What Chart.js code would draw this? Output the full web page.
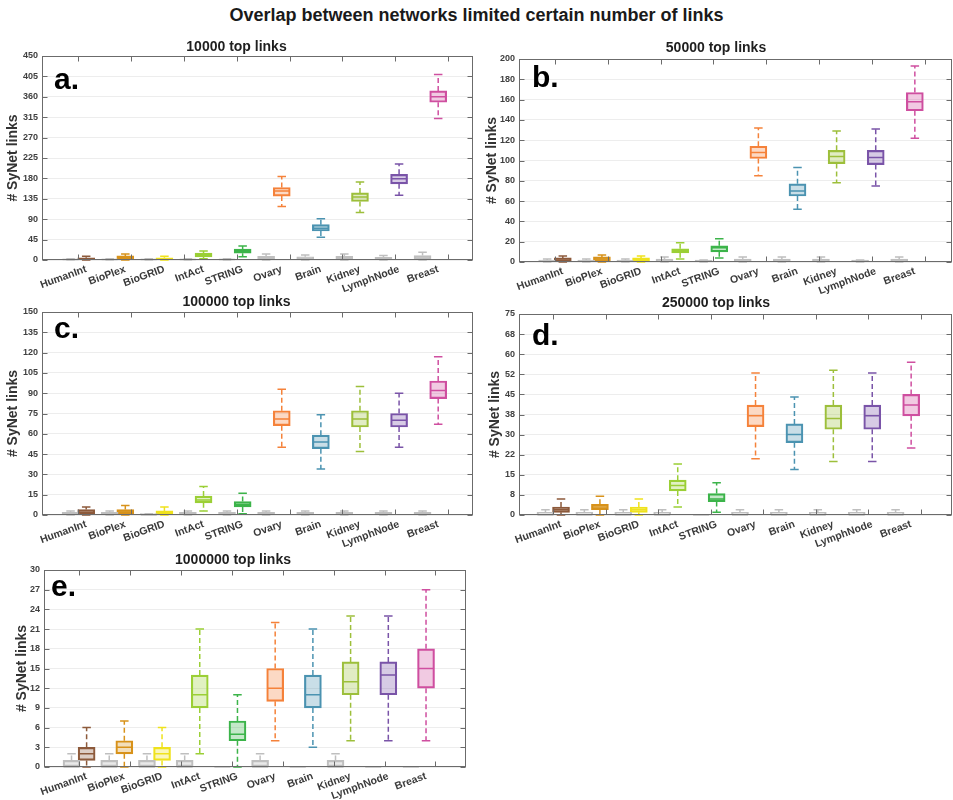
<!DOCTYPE html>
<html>
<head>
<meta charset="utf-8">
<script src="https://cdn.jsdelivr.net/npm/chart.js@4.4.1/dist/chart.umd.min.js"></script>
<style>
  html, body { margin: 0; padding: 0; background: #ffffff; }
  #page { position: relative; width: 953px; height: 800px; overflow: hidden;
          font-family: "Liberation Sans", Arial, Helvetica, sans-serif; }
  #mainTitle { position: absolute; left: 0; top: 5px; width: 953px; text-align: center;
               font-weight: bold; font-size: 18px; color: #1a1a1a; line-height: 21px; }
  .panel { position: absolute; }
  .panel canvas { display: block; }
</style>
</head>
<body>
<div id="page">
  <div id="mainTitle">Overlap between networks limited certain number of links</div>
</div>
<script>
// Networks / tissues on the x axis
const categories = ['HumanInt', 'BioPlex', 'BioGRID', 'IntAct', 'STRING',
                    'Ovary', 'Brain', 'Kidney', 'LymphNode', 'Breast'];

// Five-number summaries per category: [lower whisker, Q1, median, Q3, upper whisker]
// "Gray" = random background boxes, "Net" = SyNet overlap boxes
const links10000Gray = [[0,0,1,2,3],[0,0,1,2,3],[0,0,1,2,3],[0,0,1,2,3],[0,0,1,2,3],
                        [0,2,5,8,13],[0,2,4,7,11],[0,2,5,8,13],[0,1,3,6,10],[0,3,7,10,17]];
const links10000Net  = [[0,1,3,5,8],[0,2,5,9,13],[0,1,3,5,8],[3,7,11,15,20],[7,15,19,24,31],
                        [118,141,152,160,184],[50,64,70,78,91],[105,129,139,148,172],
                        [143,168,179,189,212],[312,348,360,373,409]];

const links50000Gray = [[0,0,1,2,3],[0,0,1,2,3],[0,0,1,2,3],[0,0,1,3,5],[0,0,1,2,2],
                        [0,0,1,3,5],[0,0,1,3,5],[0,0,1,3,5],[0,0,1,2,2],[0,0,1,3,5]];
const links50000Net  = [[0,1,3,4,6],[0,1,3,5,7],[0,0,2,4,6],[3,9,11,13,19],[4,10,14,16,23],
                        [85,102,108,114,132],[52,65,70,77,93],[78,97,104,110,129],
                        [75,96,103,110,131],[122,149,158,167,193]];

const links100000Gray = [[0,0,1,2,3],[0,0,1,2,3],[0,0,0,1,1],[0,0,1,2,3],[0,0,1,2,3],
                         [0,0,1,2,3],[0,0,1,2,3],[0,0,1,2,3],[0,0,1,2,3],[0,0,1,2,3]];
const links100000Net  = [[0,0,2,4,6],[0,1,3,4,7],[0,0,2,3,6],[3,9,11,14,21],[1,6,8,10,16],
                         [50,66,71,77,93],[34,49,54,59,74],[47,65,71,77,95],
                         [50,65,70,75,90],[67,86,92,99,117]];

const links250000Gray = [[0,0,0,1,2],[0,0,0,1,2],[0,0,0,1,2],[0,0,0,1,2],[0,0,0,0,0],
                         [0,0,0,1,2],[0,0,0,1,2],[0,0,0,1,2],[0,0,0,1,2],[0,0,0,1,2]];
const links250000Net  = [[0,1,2,3,6],[0,2,3,4,7],[0,1,2,3,6],[3,9,11,13,19],[1,5,6,8,12],
                         [21,33,37,41,53],[17,27,30,34,44],[20,32,36,41,54],
                         [20,32,37,41,53],[25,37,41,45,57]];

const links1000000Gray = [[0,0,0,1,2],[0,0,0,1,2],[0,0,0,1,2],[0,0,0,1,2],[0,0,0,0,0],
                          [0,0,0,1,2],[0,0,0,0,0],[0,0,0,1,2],[0,0,0,0,0],[0,0,0,0,0]];
const links1000000Net  = [[0,1,2,3,6],[0,2,3,4,7],[0,1,2,3,6],[2,9,11,14,21],[0,4,5,7,11],
                          [4,10,12,15,22],[3,9,11,14,21],[4,11,13,16,23],
                          [4,11,14,16,23],[4,12,15,18,27]];

// Y tick values and their printed labels
const ticks10000   = [0,45,90,135,180,225,270,315,360,405,450];
const ticks50000   = [0,20,40,60,80,100,120,140,160,180,200];
const ticks100000  = [0,15,30,45,60,75,90,105,120,135,150];
const ticks250000  = [0,7.5,15,22.5,30,37.5,45,52.5,60,67.5,75];
const tickLabels250000 = ['0','8','15','22','30','38','45','52','60','68','75'];
const ticks1000000 = [0,3,6,9,12,15,18,21,24,27,30];

// Minor x tick marks along the top and bottom frame
const xTickMarks = [1, 2.35, 3.7, 5.05, 6.4, 7.75, 9.1, 10.45];

// Box colours per category
const netColors = ['#8d5a3b', '#d8921a', '#efe21c', '#9bcf36', '#3cb44a',
                   '#f5823a', '#4b93b1', '#9dbf3b', '#7a54a8', '#cf4fa0'];
const grayColor = '#bfbfbf';

Chart.defaults.font.family = '"Liberation Sans", Arial, Helvetica, sans-serif';

function withAlpha(hex, a) {
  const n = parseInt(hex.slice(1), 16);
  return `rgba(${(n >> 16) & 255},${(n >> 8) & 255},${n & 255},${a})`;
}

// Whiskers, caps and median lines on top of the floating bars (the boxes)
const boxWhiskers = {
  id: 'boxWhiskers',
  afterDatasetsDraw(chart) {
    const { ctx } = chart;
    const y = chart.scales.y;
    const py = v => y.getPixelForValue(v);
    chart.data.datasets.forEach((ds, di) => {
      chart.getDatasetMeta(di).data.forEach((bar, i) => {
        const [lo, q1, med, q3, hi] = ds.summaries[i];
        const color = Array.isArray(ds.borderColor) ? ds.borderColor[i] : ds.borderColor;
        const x = bar.x, half = bar.width / 2, cap = bar.width / 4;
        ctx.save();
        ctx.strokeStyle = color;
        ctx.lineWidth = 1.5;
        ctx.setLineDash([5, 3]);
        ctx.beginPath();
        if (hi > q3) { ctx.moveTo(x, py(q3)); ctx.lineTo(x, py(hi)); }
        if (lo < q1) { ctx.moveTo(x, py(q1)); ctx.lineTo(x, py(lo)); }
        ctx.stroke();
        ctx.setLineDash([]);
        ctx.beginPath();
        ctx.moveTo(x - cap, py(hi)); ctx.lineTo(x + cap, py(hi));
        ctx.moveTo(x - cap, py(lo)); ctx.lineTo(x + cap, py(lo));
        ctx.moveTo(x - half + 0.5, py(med)); ctx.lineTo(x + half - 0.5, py(med));
        ctx.stroke();
        ctx.restore();
      });
    });
  }
};

// Box frame, inward tick marks and the panel letter
const matlabAxes = {
  id: 'matlabAxes',
  afterDraw(chart, args, opts) {
    const { ctx, chartArea: a } = chart;
    const xs = chart.scales.x, ys = chart.scales.y;
    const L = Math.round(a.left) + 0.5, R = Math.round(a.right) - 0.5;
    const T = Math.round(a.top) + 0.5, B = Math.round(a.bottom) - 0.5;
    ctx.save();
    ctx.strokeStyle = '#6b6b6b';
    ctx.lineWidth = 1;
    ctx.beginPath();
    xTickMarks.forEach(v => {
      const px = Math.round(xs.getPixelForValue(v)) + 0.5;
      ctx.moveTo(px, B); ctx.lineTo(px, B - 5);
      ctx.moveTo(px, T); ctx.lineTo(px, T + 5);
    });
    ys.ticks.forEach(t => {
      const py = Math.round(ys.getPixelForValue(t.value)) + 0.5;
      ctx.moveTo(L, py); ctx.lineTo(L + 5, py);
      ctx.moveTo(R, py); ctx.lineTo(R - 5, py);
    });
    ctx.stroke();
    ctx.strokeRect(L, T, R - L, B - T);
    ctx.fillStyle = '#000000';
    ctx.font = 'bold 30px "Liberation Sans", Arial, sans-serif';
    ctx.textBaseline = 'alphabetic';
    ctx.textAlign = 'left';
    ctx.fillText(opts.letter, a.left + opts.letterDx, a.top + opts.letterDy);
    ctx.restore();
  }
};

const panels = [
  { title: '10000 top links', letter: 'a.', gray: links10000Gray, net: links10000Net,
    yTicks: ticks10000, yLabels: ticks10000.map(String),
    left: 0, top: 39, width: 480, bottom: 298, L: 42, R: 473, T: 56, B: 260,
    xMin: 0.07, xMax: 11.09, yTitleX: 13, letterDx: 12, letterDy: 33 },
  { title: '50000 top links', letter: 'b.', gray: links50000Gray, net: links50000Net,
    yTicks: ticks50000, yLabels: ticks50000.map(String),
    left: 480, top: 40, width: 473, bottom: 298, L: 519, R: 952, T: 59, B: 262,
    xMin: 0.08, xMax: 11.15, yTitleX: 12, letterDx: 13, letterDy: 28 },
  { title: '100000 top links', letter: 'c.', gray: links100000Gray, net: links100000Net,
    yTicks: ticks100000, yLabels: ticks100000.map(String),
    left: 0, top: 294, width: 480, bottom: 552, L: 42, R: 473, T: 312, B: 515,
    xMin: 0.07, xMax: 11.09, yTitleX: 13, letterDx: 12, letterDy: 26 },
  { title: '250000 top links', letter: 'd.', gray: links250000Gray, net: links250000Net,
    yTicks: ticks250000, yLabels: tickLabels250000,
    left: 480, top: 295, width: 473, bottom: 552, L: 519, R: 952, T: 314, B: 515,
    xMin: 0.12, xMax: 11.25, yTitleX: 15, letterDx: 13, letterDy: 31 },
  { title: '1000000 top links', letter: 'e.', gray: links1000000Gray, net: links1000000Net,
    yTicks: ticks1000000, yLabels: ticks1000000.map(String),
    left: 0, top: 552, width: 480, bottom: 800, L: 44, R: 466, T: 570, B: 767,
    xMin: 0.07, xMax: 11.26, yTitleX: 22, letterDx: 7, letterDy: 26 }
];

const page = document.getElementById('page');
const TITLE_LINE = 14 * 1.2;

panels.forEach(p => {
  const height = p.bottom - p.top;
  const wrap = document.createElement('div');
  wrap.className = 'panel';
  wrap.style.left = p.left + 'px';
  wrap.style.top = p.top + 'px';
  wrap.style.width = p.width + 'px';
  wrap.style.height = height + 'px';
  const canvas = document.createElement('canvas');
  canvas.width = p.width;
  canvas.height = height;
  canvas.style.width = p.width + 'px';
  canvas.style.height = height + 'px';
  wrap.appendChild(canvas);
  page.appendChild(wrap);

  const grayPos = categories.map((c, i) => i + 1 - 0.2);
  const netPos = categories.map((c, i) => i + 1 + 0.2);

  new Chart(canvas, {
    type: 'bar',
    data: {
      datasets: [
        {
          label: 'random',
          summaries: p.gray,
          data: p.gray.map((s, i) => ({ x: grayPos[i], y: [s[1], s[3]] })),
          backgroundColor: withAlpha(grayColor, 0.35),
          borderColor: grayColor,
          borderWidth: 1.5,
          borderSkipped: false,
          barThickness: 17,
          grouped: false
        },
        {
          label: 'SyNet',
          summaries: p.net,
          data: p.net.map((s, i) => ({ x: netPos[i], y: [s[1], s[3]] })),
          backgroundColor: netColors.map(c => withAlpha(c, 0.3)),
          borderColor: netColors,
          borderWidth: 1.5,
          borderSkipped: false,
          barThickness: 17,
          grouped: false
        }
      ]
    },
    options: {
      responsive: false,
      animation: false,
      events: [],
      layout: { padding: { left: 0, top: 0, bottom: 0, right: (p.left + p.width) - p.R } },
      plugins: {
        legend: { display: false },
        tooltip: { enabled: false },
        title: {
          display: true, text: p.title, color: '#1f1f1f',
          font: { size: 14, weight: 'bold', lineHeight: 1.2 },
          padding: { top: 0, bottom: p.T - p.top - TITLE_LINE }
        },
        matlabAxes: { letter: p.letter, letterDx: p.letterDx, letterDy: p.letterDy }
      },
      scales: {
        x: {
          type: 'linear', min: p.xMin, max: p.xMax, offset: false,
          afterBuildTicks: s => { s.ticks = netPos.map(v => ({ value: v })); },
          afterFit: s => { s.height = p.bottom - p.B; },
          ticks: {
            autoSkip: false, minRotation: 20, maxRotation: 20, padding: 3,
            color: '#3a3a3a', font: { size: 10.5, weight: 'bold' },
            callback: (v, i) => categories[i]
          },
          grid: { display: false, drawTicks: false },
          border: { display: false }
        },
        y: {
          min: 0, max: p.yTicks[p.yTicks.length - 1],
          afterBuildTicks: s => { s.ticks = p.yTicks.map(v => ({ value: v })); },
          afterFit: s => { s.width = p.L - p.left; },
          ticks: {
            padding: 4, color: '#404040', font: { size: 9, weight: 'bold' },
            callback: (v, i) => p.yLabels[i]
          },
          grid: { color: '#ededed', lineWidth: 1, drawTicks: false },
          border: { display: false },
          title: {
            display: true, text: '# SyNet links', color: '#333333',
            font: { size: 14, weight: 'bold', lineHeight: 1.2 },
            padding: { top: p.yTitleX - TITLE_LINE / 2, bottom: 0 }
          }
        }
      }
    },
    plugins: [boxWhiskers, matlabAxes]
  });
});
</script>
</body>
</html>
